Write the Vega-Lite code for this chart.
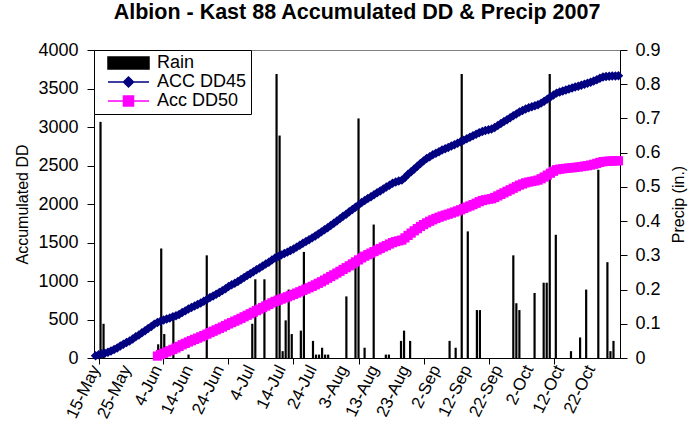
{
  "$schema": "https://vega.github.io/schema/vega-lite/v6.json",
  "width": 526,
  "height": 308,
  "autosize": {"type": "none"},
  "padding": {"left": 94, "top": 50, "right": 80, "bottom": 84},
  "background": "white",
  "config": {
    "font": "Liberation Sans",
    "view": {"stroke": "#808080", "strokeWidth": 1},
    "axis": {"labelFont": "Liberation Sans", "titleFont": "Liberation Sans", "labelColor": "black", "titleColor": "black"},
    "axisLeft": {"values": [0, 500, 1000, 1500, 2000, 2500, 3000, 3500, 4000], "format": "d", "labelOverlap": false,
                 "grid": true, "gridColor": "#222222", "gridWidth": 1, "domainColor": "black", "tickColor": "black", "tickSize": 7,
                 "labelFontSize": 18, "labelPadding": 9, "titleFontSize": 16, "titleFontWeight": "normal", "titlePadding": 7}
  },
  "title": {"text": "Albion - Kast 88 Accumulated DD & Precip 2007", "fontSize": 21.5, "fontWeight": "bold", "font": "Liberation Sans", "color": "black", "anchor": "middle", "offset": 18},
  "datasets": {
    "rain": [
      {"date": "2007/05/15", "rain": 0.69}, {"date": "2007/05/16", "rain": 0.10},
      {"date": "2007/06/03", "rain": 0.04}, {"date": "2007/06/04", "rain": 0.32}, {"date": "2007/06/05", "rain": 0.07},
      {"date": "2007/06/08", "rain": 0.13}, {"date": "2007/06/13", "rain": 0.01}, {"date": "2007/06/19", "rain": 0.30},
      {"date": "2007/07/04", "rain": 0.10}, {"date": "2007/07/05", "rain": 0.23}, {"date": "2007/07/08", "rain": 0.23},
      {"date": "2007/07/12", "rain": 0.83}, {"date": "2007/07/13", "rain": 0.65}, {"date": "2007/07/14", "rain": 0.02},
      {"date": "2007/07/15", "rain": 0.11}, {"date": "2007/07/16", "rain": 0.20}, {"date": "2007/07/17", "rain": 0.07},
      {"date": "2007/07/20", "rain": 0.08}, {"date": "2007/07/21", "rain": 0.31}, {"date": "2007/07/24", "rain": 0.05},
      {"date": "2007/07/25", "rain": 0.01}, {"date": "2007/07/26", "rain": 0.01}, {"date": "2007/07/27", "rain": 0.03},
      {"date": "2007/07/28", "rain": 0.01}, {"date": "2007/07/29", "rain": 0.01},
      {"date": "2007/08/04", "rain": 0.18}, {"date": "2007/08/07", "rain": 0.27}, {"date": "2007/08/08", "rain": 0.70},
      {"date": "2007/08/10", "rain": 0.03}, {"date": "2007/08/13", "rain": 0.39}, {"date": "2007/08/17", "rain": 0.01},
      {"date": "2007/08/18", "rain": 0.01}, {"date": "2007/08/22", "rain": 0.05}, {"date": "2007/08/23", "rain": 0.08},
      {"date": "2007/08/25", "rain": 0.05},
      {"date": "2007/09/07", "rain": 0.05}, {"date": "2007/09/09", "rain": 0.03}, {"date": "2007/09/11", "rain": 0.83},
      {"date": "2007/09/13", "rain": 0.37}, {"date": "2007/09/16", "rain": 0.14}, {"date": "2007/09/17", "rain": 0.14},
      {"date": "2007/09/28", "rain": 0.30}, {"date": "2007/09/29", "rain": 0.16}, {"date": "2007/09/30", "rain": 0.14},
      {"date": "2007/10/05", "rain": 0.19}, {"date": "2007/10/08", "rain": 0.22}, {"date": "2007/10/09", "rain": 0.22},
      {"date": "2007/10/10", "rain": 0.83}, {"date": "2007/10/12", "rain": 0.36}, {"date": "2007/10/17", "rain": 0.02},
      {"date": "2007/10/20", "rain": 0.06}, {"date": "2007/10/22", "rain": 0.20}, {"date": "2007/10/26", "rain": 0.55},
      {"date": "2007/10/29", "rain": 0.28}, {"date": "2007/10/30", "rain": 0.02}, {"date": "2007/10/31", "rain": 0.05}
    ],
    "dd": [
      {"date": "2007/05/15", "dd45": 30}, {"date": "2007/05/16", "dd45": 42}, {"date": "2007/05/17", "dd45": 55},
      {"date": "2007/05/18", "dd45": 62}, {"date": "2007/05/19", "dd45": 75}, {"date": "2007/05/20", "dd45": 92},
      {"date": "2007/05/21", "dd45": 110}, {"date": "2007/05/22", "dd45": 130}, {"date": "2007/05/23", "dd45": 155},
      {"date": "2007/05/24", "dd45": 180}, {"date": "2007/05/25", "dd45": 200}, {"date": "2007/05/26", "dd45": 222},
      {"date": "2007/05/27", "dd45": 248}, {"date": "2007/05/28", "dd45": 275}, {"date": "2007/05/29", "dd45": 300},
      {"date": "2007/05/30", "dd45": 328}, {"date": "2007/05/31", "dd45": 355}, {"date": "2007/06/01", "dd45": 382},
      {"date": "2007/06/02", "dd45": 410}, {"date": "2007/06/03", "dd45": 440},
      {"date": "2007/06/04", "dd45": 462, "dd50": 25}, {"date": "2007/06/05", "dd45": 478, "dd50": 45},
      {"date": "2007/06/06", "dd45": 492, "dd50": 62}, {"date": "2007/06/07", "dd45": 505, "dd50": 78},
      {"date": "2007/06/08", "dd45": 520, "dd50": 95}, {"date": "2007/06/09", "dd45": 535, "dd50": 112},
      {"date": "2007/06/10", "dd45": 548, "dd50": 130}, {"date": "2007/06/11", "dd45": 565, "dd50": 150},
      {"date": "2007/06/12", "dd45": 590, "dd50": 172}, {"date": "2007/06/13", "dd45": 612, "dd50": 190},
      {"date": "2007/06/14", "dd45": 635, "dd50": 208}, {"date": "2007/06/15", "dd45": 655, "dd50": 225},
      {"date": "2007/06/16", "dd45": 675, "dd50": 242}, {"date": "2007/06/17", "dd45": 695, "dd50": 258},
      {"date": "2007/06/18", "dd45": 715, "dd50": 275}, {"date": "2007/06/19", "dd45": 738, "dd50": 292},
      {"date": "2007/06/20", "dd45": 760, "dd50": 310}, {"date": "2007/06/21", "dd45": 785, "dd50": 330},
      {"date": "2007/06/22", "dd45": 805, "dd50": 348}, {"date": "2007/06/23", "dd45": 828, "dd50": 366},
      {"date": "2007/06/24", "dd45": 850, "dd50": 384}, {"date": "2007/06/25", "dd45": 875, "dd50": 402},
      {"date": "2007/06/26", "dd45": 900, "dd50": 422}, {"date": "2007/06/27", "dd45": 930, "dd50": 442},
      {"date": "2007/06/28", "dd45": 950, "dd50": 460}, {"date": "2007/06/29", "dd45": 972, "dd50": 478},
      {"date": "2007/06/30", "dd45": 995, "dd50": 496}, {"date": "2007/07/01", "dd45": 1020, "dd50": 515},
      {"date": "2007/07/02", "dd45": 1045, "dd50": 535}, {"date": "2007/07/03", "dd45": 1070, "dd50": 555},
      {"date": "2007/07/04", "dd45": 1095, "dd50": 575}, {"date": "2007/07/05", "dd45": 1120, "dd50": 595},
      {"date": "2007/07/06", "dd45": 1145, "dd50": 615}, {"date": "2007/07/07", "dd45": 1170, "dd50": 635},
      {"date": "2007/07/08", "dd45": 1195, "dd50": 655}, {"date": "2007/07/09", "dd45": 1220, "dd50": 675},
      {"date": "2007/07/10", "dd45": 1245, "dd50": 695}, {"date": "2007/07/11", "dd45": 1272, "dd50": 716},
      {"date": "2007/07/12", "dd45": 1298, "dd50": 735}, {"date": "2007/07/13", "dd45": 1318, "dd50": 750},
      {"date": "2007/07/14", "dd45": 1338, "dd50": 765}, {"date": "2007/07/15", "dd45": 1356, "dd50": 780},
      {"date": "2007/07/16", "dd45": 1375, "dd50": 795}, {"date": "2007/07/17", "dd45": 1395, "dd50": 810},
      {"date": "2007/07/18", "dd45": 1415, "dd50": 826}, {"date": "2007/07/19", "dd45": 1440, "dd50": 843},
      {"date": "2007/07/20", "dd45": 1465, "dd50": 860}, {"date": "2007/07/21", "dd45": 1490, "dd50": 878},
      {"date": "2007/07/22", "dd45": 1512, "dd50": 895}, {"date": "2007/07/23", "dd45": 1535, "dd50": 912},
      {"date": "2007/07/24", "dd45": 1560, "dd50": 930}, {"date": "2007/07/25", "dd45": 1585, "dd50": 950},
      {"date": "2007/07/26", "dd45": 1610, "dd50": 970}, {"date": "2007/07/27", "dd45": 1638, "dd50": 990},
      {"date": "2007/07/28", "dd45": 1665, "dd50": 1012}, {"date": "2007/07/29", "dd45": 1692, "dd50": 1035},
      {"date": "2007/07/30", "dd45": 1720, "dd50": 1058}, {"date": "2007/07/31", "dd45": 1750, "dd50": 1080},
      {"date": "2007/08/01", "dd45": 1780, "dd50": 1103}, {"date": "2007/08/02", "dd45": 1810, "dd50": 1126},
      {"date": "2007/08/03", "dd45": 1840, "dd50": 1150}, {"date": "2007/08/04", "dd45": 1868, "dd50": 1173},
      {"date": "2007/08/05", "dd45": 1898, "dd50": 1197}, {"date": "2007/08/06", "dd45": 1928, "dd50": 1222},
      {"date": "2007/08/07", "dd45": 1958, "dd50": 1248}, {"date": "2007/08/08", "dd45": 1988, "dd50": 1274},
      {"date": "2007/08/09", "dd45": 2018, "dd50": 1300}, {"date": "2007/08/10", "dd45": 2045, "dd50": 1322},
      {"date": "2007/08/11", "dd45": 2070, "dd50": 1342}, {"date": "2007/08/12", "dd45": 2095, "dd50": 1362},
      {"date": "2007/08/13", "dd45": 2120, "dd50": 1382}, {"date": "2007/08/14", "dd45": 2145, "dd50": 1402},
      {"date": "2007/08/15", "dd45": 2170, "dd50": 1422}, {"date": "2007/08/16", "dd45": 2195, "dd50": 1442},
      {"date": "2007/08/17", "dd45": 2220, "dd50": 1460}, {"date": "2007/08/18", "dd45": 2245, "dd50": 1480},
      {"date": "2007/08/19", "dd45": 2268, "dd50": 1498}, {"date": "2007/08/20", "dd45": 2285, "dd50": 1512},
      {"date": "2007/08/21", "dd45": 2298, "dd50": 1522}, {"date": "2007/08/22", "dd45": 2310, "dd50": 1532},
      {"date": "2007/08/23", "dd45": 2345, "dd50": 1560}, {"date": "2007/08/24", "dd45": 2385, "dd50": 1592},
      {"date": "2007/08/25", "dd45": 2420, "dd50": 1622}, {"date": "2007/08/26", "dd45": 2455, "dd50": 1652},
      {"date": "2007/08/27", "dd45": 2490, "dd50": 1680}, {"date": "2007/08/28", "dd45": 2525, "dd50": 1708},
      {"date": "2007/08/29", "dd45": 2560, "dd50": 1732}, {"date": "2007/08/30", "dd45": 2590, "dd50": 1755},
      {"date": "2007/08/31", "dd45": 2615, "dd50": 1776}, {"date": "2007/09/01", "dd45": 2640, "dd50": 1795},
      {"date": "2007/09/02", "dd45": 2660, "dd50": 1812}, {"date": "2007/09/03", "dd45": 2680, "dd50": 1828},
      {"date": "2007/09/04", "dd45": 2700, "dd50": 1843}, {"date": "2007/09/05", "dd45": 2718, "dd50": 1856},
      {"date": "2007/09/06", "dd45": 2735, "dd50": 1868}, {"date": "2007/09/07", "dd45": 2752, "dd50": 1882},
      {"date": "2007/09/08", "dd45": 2770, "dd50": 1896}, {"date": "2007/09/09", "dd45": 2788, "dd50": 1910},
      {"date": "2007/09/10", "dd45": 2808, "dd50": 1925}, {"date": "2007/09/11", "dd45": 2828, "dd50": 1942},
      {"date": "2007/09/12", "dd45": 2848, "dd50": 1960}, {"date": "2007/09/13", "dd45": 2866, "dd50": 1975},
      {"date": "2007/09/14", "dd45": 2885, "dd50": 1992}, {"date": "2007/09/15", "dd45": 2905, "dd50": 2010},
      {"date": "2007/09/16", "dd45": 2925, "dd50": 2030}, {"date": "2007/09/17", "dd45": 2942, "dd50": 2045},
      {"date": "2007/09/18", "dd45": 2955, "dd50": 2055}, {"date": "2007/09/19", "dd45": 2965, "dd50": 2062},
      {"date": "2007/09/20", "dd45": 2975, "dd50": 2068}, {"date": "2007/09/21", "dd45": 2995, "dd50": 2085},
      {"date": "2007/09/22", "dd45": 3020, "dd50": 2105}, {"date": "2007/09/23", "dd45": 3045, "dd50": 2125},
      {"date": "2007/09/24", "dd45": 3070, "dd50": 2145}, {"date": "2007/09/25", "dd45": 3095, "dd50": 2165},
      {"date": "2007/09/26", "dd45": 3120, "dd50": 2185}, {"date": "2007/09/27", "dd45": 3145, "dd50": 2205},
      {"date": "2007/09/28", "dd45": 3170, "dd50": 2225}, {"date": "2007/09/29", "dd45": 3195, "dd50": 2245},
      {"date": "2007/09/30", "dd45": 3215, "dd50": 2260}, {"date": "2007/10/01", "dd45": 3235, "dd50": 2275},
      {"date": "2007/10/02", "dd45": 3250, "dd50": 2285}, {"date": "2007/10/03", "dd45": 3262, "dd50": 2293},
      {"date": "2007/10/04", "dd45": 3275, "dd50": 2300}, {"date": "2007/10/05", "dd45": 3290, "dd50": 2310},
      {"date": "2007/10/06", "dd45": 3310, "dd50": 2328}, {"date": "2007/10/07", "dd45": 3335, "dd50": 2350},
      {"date": "2007/10/08", "dd45": 3362, "dd50": 2375}, {"date": "2007/10/09", "dd45": 3390, "dd50": 2400},
      {"date": "2007/10/10", "dd45": 3415, "dd50": 2425}, {"date": "2007/10/11", "dd45": 3440, "dd50": 2445},
      {"date": "2007/10/12", "dd45": 3455, "dd50": 2452}, {"date": "2007/10/13", "dd45": 3468, "dd50": 2458},
      {"date": "2007/10/14", "dd45": 3480, "dd50": 2463}, {"date": "2007/10/15", "dd45": 3492, "dd50": 2467},
      {"date": "2007/10/16", "dd45": 3505, "dd50": 2471}, {"date": "2007/10/17", "dd45": 3518, "dd50": 2475},
      {"date": "2007/10/18", "dd45": 3530, "dd50": 2480}, {"date": "2007/10/19", "dd45": 3542, "dd50": 2486},
      {"date": "2007/10/20", "dd45": 3555, "dd50": 2492}, {"date": "2007/10/21", "dd45": 3568, "dd50": 2498},
      {"date": "2007/10/22", "dd45": 3582, "dd50": 2506}, {"date": "2007/10/23", "dd45": 3598, "dd50": 2516},
      {"date": "2007/10/24", "dd45": 3615, "dd50": 2528}, {"date": "2007/10/25", "dd45": 3632, "dd50": 2540},
      {"date": "2007/10/26", "dd45": 3648, "dd50": 2550}, {"date": "2007/10/27", "dd45": 3655, "dd50": 2554},
      {"date": "2007/10/28", "dd45": 3660, "dd50": 2557}, {"date": "2007/10/29", "dd45": 3662, "dd50": 2559},
      {"date": "2007/10/30", "dd45": 3663, "dd50": 2560}, {"date": "2007/10/31", "dd45": 3665, "dd50": 2561}
    ]
  },
  "layer": [
    {
      "data": {"name": "rain"},
      "mark": {"type": "bar", "color": "black", "size": 2.2},
      "encoding": {
        "x": {
          "field": "date", "type": "temporal",
          "scale": {"domain": [{"year": 2007, "month": 5, "date": 14, "hours": 12}, {"year": 2007, "month": 10, "date": 31, "hours": 12}]},
          "axis": {
            "orient": "bottom", "labels": false, "domain": false, "grid": false, "ticks": true, "tickSize": 6, "tickColor": "black", "title": null,
            "values": [
              {"year": 2007, "month": 5, "date": 14, "hours": 12}, {"year": 2007, "month": 6, "date": 4, "hours": 12},
              {"year": 2007, "month": 6, "date": 26}, {"year": 2007, "month": 7, "date": 17, "hours": 12},
              {"year": 2007, "month": 8, "date": 8}, {"year": 2007, "month": 8, "date": 29, "hours": 12},
              {"year": 2007, "month": 9, "date": 20}, {"year": 2007, "month": 10, "date": 11, "hours": 12}
            ]
          }
        },
        "y": {
          "field": "rain", "type": "quantitative",
          "scale": {"domain": [0, 0.9]},
          "axis": {
            "orient": "right", "values": [0, 0.1, 0.2, 0.3, 0.4, 0.5, 0.6, 0.7, 0.8, 0.9], "format": "~g", "grid": false, "labelOverlap": false,
            "title": "Precip (in.)", "titleFontSize": 16, "titleFontWeight": "normal", "titleAngle": 270, "titleBaseline": "top", "titlePadding": 10,
            "labelFontSize": 18, "labelPadding": 8, "tickSize": 7, "tickColor": "black", "domainColor": "black"
          }
        }
      }
    },
    {
      "data": {"name": "dd"},
      "encoding": {
        "x": {
          "field": "date", "type": "temporal",
          "scale": {"domain": [{"year": 2007, "month": 5, "date": 14, "hours": 12}, {"year": 2007, "month": 10, "date": 31, "hours": 12}]},
          "axis": {
            "orient": "bottom", "format": "%-d-%b", "labelAngle": -64, "ticks": false, "domain": true, "domainColor": "black", "grid": false, "title": null,
            "labelFontSize": 17, "labelPadding": 8, "labelOverlap": false,
            "values": [
              {"year": 2007, "month": 5, "date": 15}, {"year": 2007, "month": 5, "date": 25}, {"year": 2007, "month": 6, "date": 4},
              {"year": 2007, "month": 6, "date": 14}, {"year": 2007, "month": 6, "date": 24}, {"year": 2007, "month": 7, "date": 4},
              {"year": 2007, "month": 7, "date": 14}, {"year": 2007, "month": 7, "date": 24}, {"year": 2007, "month": 8, "date": 3},
              {"year": 2007, "month": 8, "date": 13}, {"year": 2007, "month": 8, "date": 23}, {"year": 2007, "month": 9, "date": 2},
              {"year": 2007, "month": 9, "date": 12}, {"year": 2007, "month": 9, "date": 22}, {"year": 2007, "month": 10, "date": 2},
              {"year": 2007, "month": 10, "date": 12}, {"year": 2007, "month": 10, "date": 22}
            ]
          }
        }
      },
      "layer": [
        {
          "mark": {"type": "line", "color": "#000080", "strokeWidth": 1.5},
          "encoding": {
            "y": {"field": "dd45", "type": "quantitative", "title": "Accumulated DD", "scale": {"domain": [0, 4000]}, "axis": {"orient": "left"}}
          }
        },
        {
          "mark": {"type": "point", "shape": "diamond", "filled": true, "color": "#000080", "size": 90, "opacity": 1},
          "encoding": {"y": {"field": "dd45", "type": "quantitative", "title": "Accumulated DD", "axis": {"orient": "left"}}}
        },
        {
          "mark": {"type": "line", "color": "#FF00FF", "strokeWidth": 1.5},
          "encoding": {"y": {"field": "dd50", "type": "quantitative", "title": "Accumulated DD", "axis": {"orient": "left"}}}
        },
        {
          "mark": {"type": "point", "shape": "square", "filled": true, "color": "#FF00FF", "size": 85, "opacity": 1},
          "encoding": {"y": {"field": "dd50", "type": "quantitative", "title": "Accumulated DD", "axis": {"orient": "left"}}}
        },
        {
          "transform": [{"filter": {"field": "dd45", "lt": 0}}],
          "mark": {"type": "point", "opacity": 1, "strokeWidth": 1.3},
          "encoding": {
            "y": {"field": "dd45", "type": "quantitative", "title": "Accumulated DD", "axis": {"orient": "left"}},
            "fill": {
              "field": "series", "type": "nominal",
              "scale": {"domain": ["Rain", "ACC DD45", "Acc DD50"], "range": ["#000000", "#000080", "#FF00FF"]},
              "legend": {"title": null, "orient": "top-left", "offset": 0, "padding": 4, "strokeColor": "black", "fillColor": "white",
                         "labelFontSize": 18, "labelFont": "Liberation Sans", "labelColor": "black", "symbolSize": 100, "labelOffset": 41, "rowPadding": 1}
            },
            "stroke": {
              "field": "series", "type": "nominal",
              "scale": {"domain": ["Rain", "ACC DD45", "Acc DD50"], "range": ["#000000", "#000080", "#FF00FF"]},
              "legend": {"title": null, "orient": "top-left", "offset": 0, "padding": 4, "strokeColor": "black", "fillColor": "white",
                         "labelFontSize": 18, "labelFont": "Liberation Sans", "labelColor": "black", "symbolSize": 100, "labelOffset": 41, "rowPadding": 1}
            },
            "shape": {
              "field": "series", "type": "nominal",
              "scale": {"domain": ["Rain", "ACC DD45", "Acc DD50"], "range": ["M0.2,-1.2H8.4V1.2H0.2Z", "M0.2,0H8.4M4.3,-1L5.3,0L4.3,1L3.3,0Z", "M0.2,0H8.4M3.3,-1H5.3V1H3.3Z"]},
              "legend": {"title": null, "orient": "top-left", "offset": 0, "padding": 4, "strokeColor": "black", "fillColor": "white",
                         "labelFontSize": 18, "labelFont": "Liberation Sans", "labelColor": "black", "symbolSize": 100, "labelOffset": 41, "rowPadding": 1}
            }
          }
        }
      ]
    }
  ],
  "resolve": {"scale": {"y": "independent", "x": "independent"}, "axis": {"y": "independent", "x": "independent"}}
}
